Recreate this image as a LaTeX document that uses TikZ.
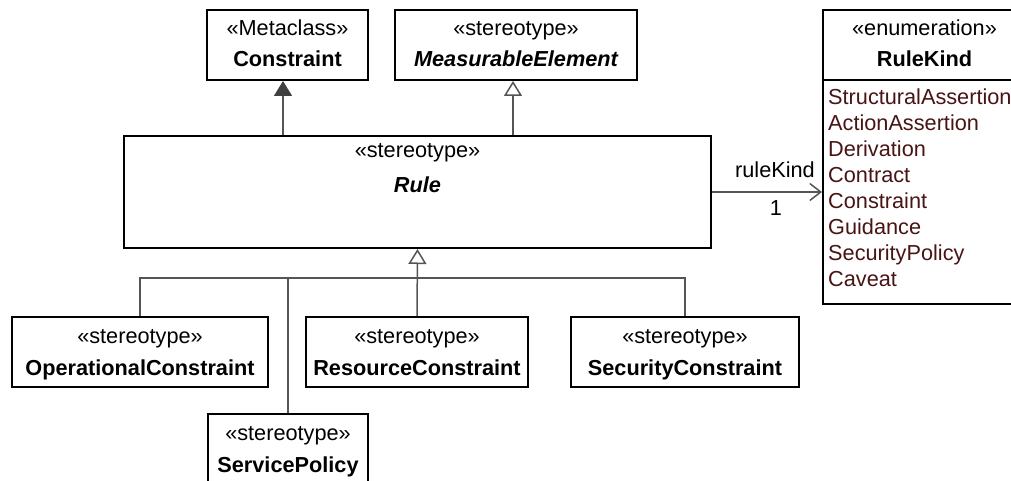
\documentclass[tikz,border=0pt]{standalone}
\usepackage{fontspec}
\setmainfont{Liberation Sans}
\usetikzlibrary{arrows.meta}
\definecolor{connc}{RGB}{85,85,85}
\definecolor{headc}{RGB}{64,64,64}
\definecolor{litc}{RGB}{72,20,20}
\newcommand{\fsz}{\fontsize{21.7}{25}\selectfont}
\begin{document}
\begin{tikzpicture}[x=1pt,y=-1pt,
  box/.style={draw=black,line width=2pt,fill=white,anchor=north west,inner sep=0pt},
  txt/.style={anchor=base,inner sep=0pt,font=\fsz},
  lit/.style={anchor=base west,inner sep=0pt,text=litc,font=\fsz},
  conn/.style={draw=connc,line width=1.5pt},
  gen/.style={conn,-{Triangle[open,length=15pt,width=18pt]}},
  ext/.style={conn,-{Triangle[length=15pt,width=18pt,fill=headc,color=headc]}},
  assoc/.style={conn,-{Straight Barb[length=11pt,width=17pt]}}
]
\useasboundingbox (0,0) rectangle (1011,481);
\clip (0,0) rectangle (1011,481);

% boxes
\node[box,minimum width=161pt,minimum height=70pt] (C) at (206,9) {};
\node[box,minimum width=242pt,minimum height=70pt] (M) at (394,9) {};
\node[box,minimum width=587pt,minimum height=112pt] (R) at (123,135) {};
\node[box,minimum width=203pt,minimum height=294pt] (E) at (822,9) {};
\node[box,minimum width=256pt,minimum height=70pt] (OC) at (11,316) {};
\node[box,minimum width=222pt,minimum height=70pt] (RC) at (305,316) {};
\node[box,minimum width=228pt,minimum height=70pt] (SC) at (570,316) {};
\node[box,minimum width=160pt,minimum height=90pt] (SP) at (207,413) {};

% texts
\node[txt] (Ct1) at ([yshift=-27pt]C.north) {«Metaclass»};
\node[txt,font=\fsz\bfseries] (Ct2) at ([yshift=-58pt]C.north) {Constraint};
\node[txt] (Mt1) at ([yshift=-27pt]M.north) {«stereotype»};
\node[txt,font=\fsz\bfseries\itshape] (Mt2) at ([yshift=-58pt]M.north) {MeasurableElement};
\node[txt] (Rt1) at ([yshift=-23pt]R.north) {«stereotype»};
\node[txt,font=\fsz\bfseries\itshape] (Rt2) at ([yshift=-58pt]R.north) {Rule};
\node[txt] (Et1) at ([yshift=-27pt]E.north) {«enumeration»};
\node[txt,font=\fsz\bfseries] (Et2) at ([yshift=-58pt]E.north) {RuleKind};
\draw[line width=2pt] ([yshift=-71pt]E.north west) -- ([yshift=-71pt]E.north east);
\node[lit] (L1) at (828,105) {StructuralAssertion};
\node[lit] (L2) at (828,130.9) {ActionAssertion};
\node[lit] (L3) at (828,156.7) {Derivation};
\node[lit] (L4) at (828,182.6) {Contract};
\node[lit] (L5) at (828,208.4) {Constraint};
\node[lit] (L6) at (828,234.3) {Guidance};
\node[lit] (L7) at (828,260.1) {SecurityPolicy};
\node[lit] (L8) at (828,286) {Caveat};

\node[txt] (OCt1) at ([yshift=-27pt]OC.north) {«stereotype»};
\node[txt,font=\fsz\bfseries] (OCt2) at ([yshift=-59pt]OC.north) {OperationalConstraint};
\node[txt] (RCt1) at ([yshift=-27pt]RC.north) {«stereotype»};
\node[txt,font=\fsz\bfseries] (RCt2) at ([yshift=-59pt]RC.north) {ResourceConstraint};
\node[txt] (SCt1) at ([yshift=-27pt]SC.north) {«stereotype»};
\node[txt,font=\fsz\bfseries] (SCt2) at ([yshift=-59pt]SC.north) {SecurityConstraint};
\node[txt] (SPt1) at ([yshift=-27pt]SP.north) {«stereotype»};
\node[txt,font=\fsz\bfseries] (SPt2) at ([yshift=-59pt]SP.north) {ServicePolicy};

% connectors
\coordinate (bus) at (416,278);
\draw[ext] (R.north -| 283,0) -- (C.south -| 283,0);
\draw[gen] (R.north -| 513,0) -- (M.south -| 513,0);
\draw[gen] (RC.north) -- (R.south);
\draw[conn] (OC.north) |- (SC.north |- bus) -- (SC.north);
\draw[conn] (SP.north) -- (SP.north |- bus);
\draw[assoc] (R.east) -- (E.west |- R.east);
\node[txt,anchor=base east] (lab1) at (815,178) {ruleKind};
\node[txt] (lab2) at (776,215) {1};
\end{tikzpicture}
\end{document}
